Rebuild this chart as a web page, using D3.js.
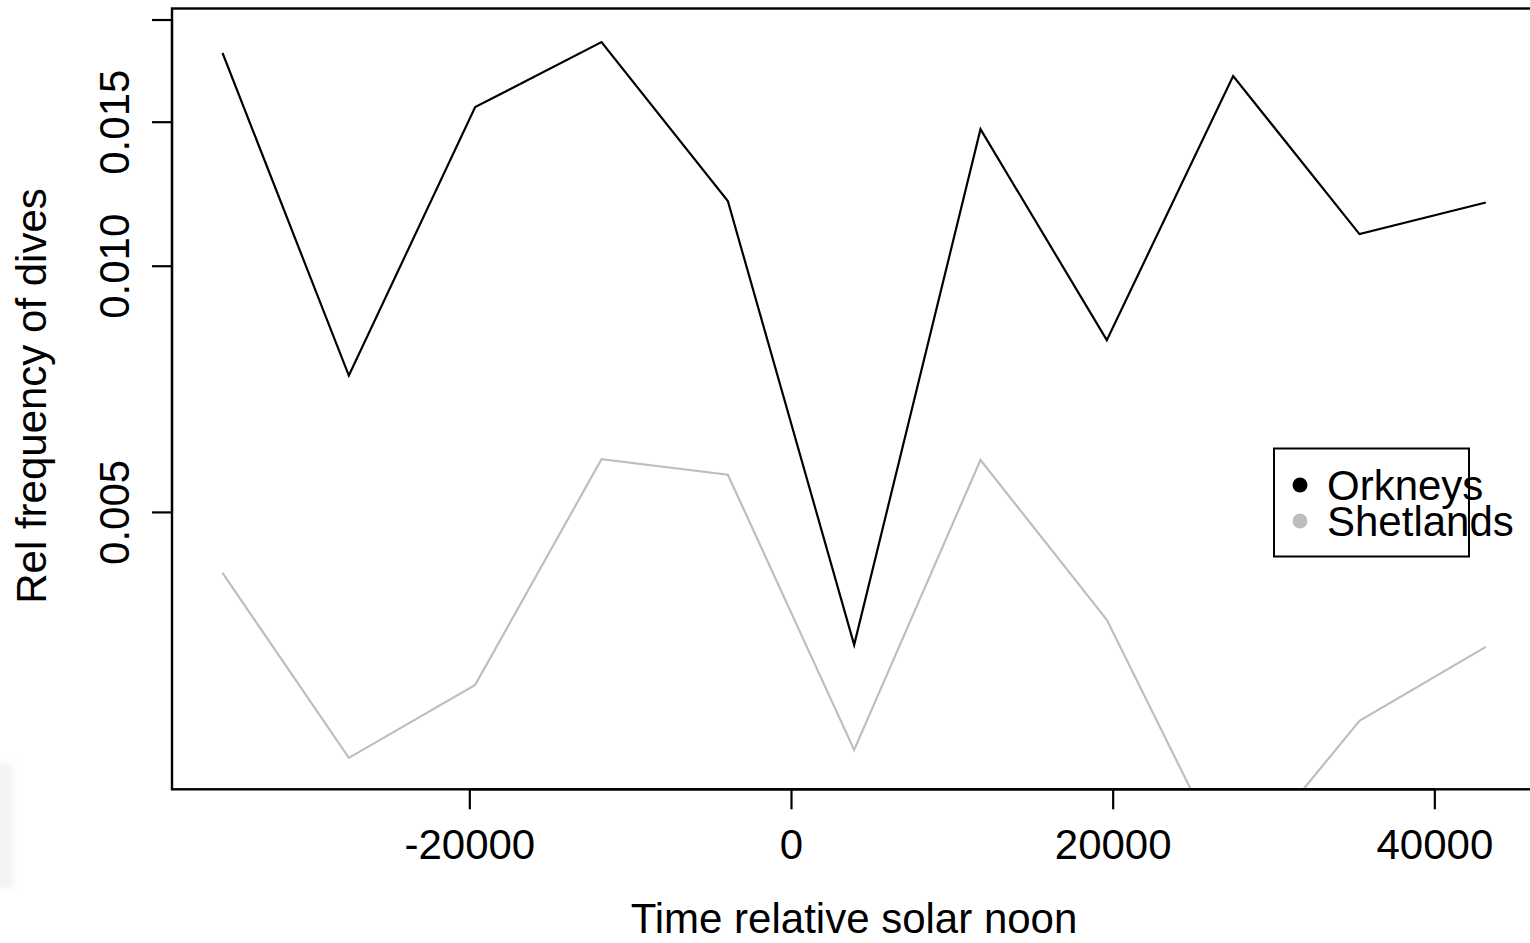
<!DOCTYPE html>
<html>
<head>
<meta charset="utf-8">
<script src="https://cdn.jsdelivr.net/npm/d3@7/dist/d3.min.js"></script>
<style>
  html, body { margin: 0; padding: 0; background: #fff; overflow: hidden; }
  svg { display: block; }
  text { font-family: "Liberation Sans", Arial, Helvetica, sans-serif; fill: #000; }
</style>
</head>
<body>
<svg id="chart" width="1530" height="943"></svg>
<script>
// Time of day bins (seconds relative to solar noon)
const timeBins = [-35345, -27491, -19636, -11782, -3927, 3927, 11782, 19636, 27491, 35345, 43200];

// Relative frequency of dives per bin
const orkneys   = [0.01820, 0.00734, 0.01563, 0.01877, 0.01200, 0.003439, 0.01469, 0.00811, 0.01706, 0.01093, 0.01195];
const shetlands = [0.004211, 0.002502, 0.003073, 0.005800, 0.005553, 0.002559, 0.005788, 0.003690, 0.001800, 0.002777, 0.003420];

const seriesNames  = ["Orkneys", "Shetlands"];
const seriesColors = ["#000000", "#bebebe"];

const xTickValues = [-20000, 0, 20000, 40000];
const xTickLabels = ["-20000", "0", "20000", "40000"];
const yTickValues = [0.005, 0.010, 0.015, 0.020];
const yTickLabels = ["0.005", "0.010", "0.015", ""];

const svg = d3.select("#chart");

// Plot region
const plotLeft = 172, plotTop = 8.5, plotBottom = 789.3;
// x range padded by 4% on each side
const xMin = d3.min(timeBins), xMax = d3.max(timeBins);
const xPad = (xMax - xMin) * 0.04;
const pxPerUnit = (791 - plotLeft) / (0 - (xMin - xPad));
const plotRight = plotLeft + (xMax + xPad - (xMin - xPad)) * pxPerUnit;

const x = d3.scaleLinear().domain([xMin - xPad, xMax + xPad]).range([plotLeft, plotRight]);
const y = d3.scaleLog().domain([0.002290, 0.02063]).range([plotBottom, plotTop]);

const defs = svg.append("defs");
defs.append("filter").attr("id", "soft")
  .attr("x", "-50%").attr("y", "-20%").attr("width", "200%").attr("height", "140%")
  .append("feGaussianBlur").attr("stdDeviation", 3);
defs.append("clipPath").attr("id", "plotClip")
  .append("rect").attr("x", plotLeft).attr("y", plotTop)
  .attr("width", plotRight - plotLeft).attr("height", plotBottom - plotTop);

// faint smudge at lower left edge
svg.append("rect").attr("x", -6).attr("y", 764).attr("width", 19).attr("height", 124)
  .attr("fill", "#f3f3f3").attr("filter", "url(#soft)");

// Series lines
const line = d3.line().x((d, i) => x(timeBins[i])).y(d => y(d));
const lines = svg.append("g").attr("clip-path", "url(#plotClip)");
[orkneys, shetlands].forEach((vals, k) => {
  lines.append("path")
    .datum(vals)
    .attr("d", line)
    .attr("fill", "none")
    .attr("stroke", seriesColors[k])
    .attr("stroke-width", 2.2)
    .attr("stroke-linejoin", "miter");
});

// Plot box
svg.append("rect")
  .attr("x", plotLeft).attr("y", plotTop)
  .attr("width", plotRight - plotLeft).attr("height", plotBottom - plotTop)
  .attr("fill", "none").attr("stroke", "#000").attr("stroke-width", 2.4);

// x axis
const xAxis = d3.axisBottom(x).tickValues(xTickValues)
  .tickFormat((d, i) => xTickLabels[i]).tickSize(20).tickSizeOuter(0);
const gx = svg.append("g").attr("transform", `translate(0,${plotBottom})`).call(xAxis);
gx.select(".domain")
  .attr("d", `M${x(xTickValues[0])},0H${x(xTickValues[xTickValues.length - 1])}`)
  .attr("stroke-width", 2.2);
gx.selectAll(".tick line").attr("stroke-width", 2.2);
gx.selectAll(".tick text")
  .attr("y", 70).attr("dy", null)
  .style("font-size", "42px")
  .style("font-family", "'Liberation Sans', Arial, sans-serif");

// y axis
const yAxis = d3.axisLeft(y).tickValues(yTickValues)
  .tickFormat((d, i) => yTickLabels[i]).tickSize(20).tickSizeOuter(0);
const gy = svg.append("g").attr("transform", `translate(${plotLeft},0)`).call(yAxis);
gy.select(".domain")
  .attr("d", `M0,${y(yTickValues[0])}V${y(yTickValues[yTickValues.length - 1])}`)
  .attr("stroke-width", 2.2);
gy.selectAll(".tick line").attr("stroke-width", 2.2);
gy.selectAll(".tick text")
  .attr("x", null).attr("dy", null)
  .attr("transform", "translate(-43,0) rotate(-90)")
  .attr("text-anchor", "middle")
  .style("font-size", "42px")
  .style("font-family", "'Liberation Sans', Arial, sans-serif");

// Axis titles
svg.append("text")
  .attr("x", 854).attr("y", 933)
  .attr("text-anchor", "middle")
  .style("font-size", "42px")
  .text("Time relative solar noon");

svg.append("text")
  .attr("transform", "translate(46,396) rotate(-90)")
  .attr("text-anchor", "middle")
  .style("font-size", "42px")
  .text("Rel frequency of dives");

// Legend
const lg = svg.append("g");
lg.append("rect")
  .attr("x", 1274).attr("y", 448.5).attr("width", 195).attr("height", 108)
  .attr("fill", "#fff").attr("stroke", "#000").attr("stroke-width", 2);
seriesNames.forEach((name, i) => {
  const cy = 485 + i * 36;
  lg.append("circle").attr("cx", 1300).attr("cy", cy).attr("r", 7.5)
    .attr("fill", seriesColors[i]);
  lg.append("text").attr("x", 1327).attr("y", cy + 15)
    .style("font-size", "42px").text(name);
});
</script>
</body>
</html>
